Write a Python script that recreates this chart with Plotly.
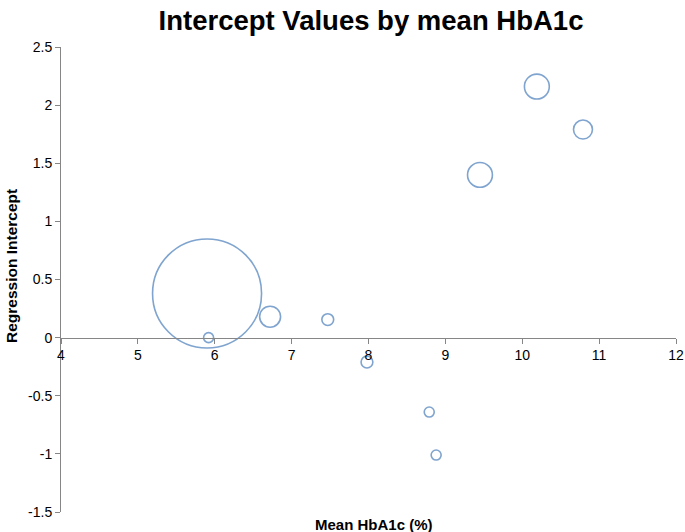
import plotly.graph_objects as go

# Data
mean_hba1c = [5.90, 5.92, 6.72, 7.47, 7.98, 8.79, 8.88, 9.45, 10.19, 10.79]
intercept = [0.38, 0.00, 0.18, 0.155, -0.21, -0.64, -1.01, 1.40, 2.16, 1.79]
bubble_size = [1190, 10, 44, 14, 14, 10, 10, 62, 62, 36]

y_tick_vals = [-1.5, -1, -0.5, 0, 0.5, 1, 1.5, 2, 2.5]
y_tick_text = ["-1.5", "-1", "-0.5", "0", "0.5", "1", "1.5", "2", "2.5"]
x_tick_vals = [4, 5, 6, 7, 8, 9, 10, 11, 12]

max_diam = 109
sizeref = 2.0 * max(bubble_size) / (max_diam ** 2)

fig = go.Figure()
fig.add_trace(go.Scatter(
    x=mean_hba1c, y=intercept, mode="markers",
    marker=dict(size=bubble_size, sizemode="area", sizeref=sizeref,
                color="rgba(0,0,0,0)",
                line=dict(color="#4A7EBB", width=1.6)),
    hoverinfo="x+y", showlegend=False,
))

axis_grey = "#868686"
W, H = 685, 532
L, R, T, B = 61, 9, 47, 20
pw, ph = W - L - R, H - T - B

fig.update_layout(
    width=W, height=H, autosize=False,
    paper_bgcolor="white", plot_bgcolor="white",
    margin=dict(l=L, r=R, t=T, b=B),
    font=dict(family="Liberation Sans, Arial, sans-serif", color="#000000", size=14),
    title=dict(text="<b>Intercept Values by mean HbA1c</b>",
               font=dict(size=27.5, family="Liberation Sans, Arial, sans-serif"),
               x=371 / W, xanchor="center", y=1 - 20 / H, yanchor="middle"),
    xaxis=dict(range=[4, 12], tickvals=x_tick_vals, showgrid=False, zeroline=False,
               showline=True, linecolor=axis_grey, linewidth=1,
               ticks="outside", ticklen=5, tickcolor=axis_grey,
               anchor="free", position=0.375, domain=[0, 1],
               automargin=False, tickfont=dict(size=14)),
    yaxis=dict(range=[-1.5, 2.5], tickvals=y_tick_vals, ticktext=y_tick_text,
               showgrid=False, zeroline=False, domain=[0, 1],
               showline=True, linecolor=axis_grey, linewidth=1,
               ticks="outside", ticklen=5, tickcolor=axis_grey,
               automargin=False, tickfont=dict(size=14)),
    annotations=[
        dict(text="<b>Mean HbA1c (%)</b>", xref="paper", yref="paper",
             x=313 / pw, y=-12 / ph, xanchor="center", yanchor="middle",
             showarrow=False, font=dict(size=15)),
        dict(text="<b>Regression Intercept</b>", xref="paper", yref="paper",
             x=-50 / pw, y=1 - 219 / ph, xanchor="center", yanchor="middle",
             textangle=-90, showarrow=False, font=dict(size=15.5)),
    ],
)

post = (
    "document.body.style.margin='0';"
    "document.body.style.padding='0';"
    "document.body.style.overflow='hidden';"
    "var gd=document.getElementById('{plot_id}');"
    "Plotly.relayout(gd,{width:685,height:532});"
)

fig.write_html("out.html", post_script=post,
               config={"displayModeBar": False, "responsive": False})
